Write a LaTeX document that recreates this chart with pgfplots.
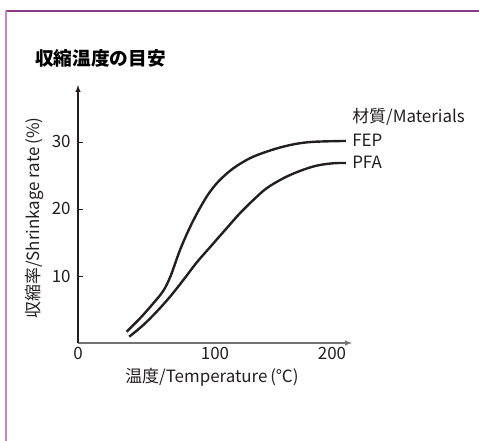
\documentclass[border=0pt]{standalone}
\usepackage{pgfplots}
\pgfplotsset{compat=1.18}
\usepackage{fontspec}
\setmainfont{Noto Sans CJK JP}
\definecolor{ink}{RGB}{35,31,32}
\definecolor{frametop}{RGB}{140,58,130}
\definecolor{frameleft}{RGB}{210,128,195}
\begin{document}
\begin{tikzpicture}
\path[use as bounding box] (0,0) rectangle (359.25pt,330.75pt);
\draw[line width=1.1pt, frametop] (4.5pt,322.5pt) -- (359.25pt,322.5pt);
\draw[line width=1.1pt, frameleft] (4.5pt,322.5pt) -- (4.5pt,0pt);
\node[anchor=west, inner sep=0pt, font=\bfseries\fontsize{14}{16}\selectfont] at (26.25pt,287.25pt) {収縮温度の目安};
\begin{axis}[
  at={(58.5pt,73.5pt)}, anchor=origin,
  scale only axis, width=205.5pt, height=193.5pt,
  xmin=0, xmax=200, ymin=0, ymax=38.5,
  axis lines=left, clip=false,
  x axis line style={line width=0.8pt, black!55, -latex},
  y axis line style={line width=0.8pt, ink, -latex},
  xtick={0,100}, extra x ticks={200},
  extra x tick style={major tick length=0pt, xticklabel style={xshift=-15pt}},
  major x tick style={draw=none},
  ytick={10,20,30},
  tick align=inside, major tick length=4pt,
  major y tick style={ink, line width=0.6pt},
  tick label style={font=\fontsize{12.7}{14}\selectfont, text=ink},
  yticklabel style={xshift=-2pt},
  /pgf/number format/assume math mode=true,
  xlabel={温度/Temperature\,(℃)},
  ylabel={収縮率/Shrinkage rate\,(\%)},
  label style={font=\fontsize{12.7}{14}\selectfont, text=ink},
  xlabel style={at={(axis description cs:0.489,-0.132)}, anchor=center},
  ylabel style={at={(axis description cs:-0.157,0.484)}, anchor=center, rotate=0},
]
\addplot[ink, line width=1.8pt, smooth, tension=0.6] coordinates {
(35.5,1.69) (45.3,3.69) (55.0,5.93) (62.3,7.8) (67.2,9.8) (70.8,11.8) (74.5,13.9)
(79.3,16.2) (84.2,18.3) (90.3,20.6) (96.4,22.58) (103.6,24.33) (113.4,26.07)
(125.5,27.57) (137.7,28.55) (149.9,29.30) (162.0,29.81) (174.2,30.04) (195.6,30.15)};
\addplot[ink, line width=1.8pt, smooth, tension=0.6] coordinates {
(37.4,0.94) (47.7,2.69) (57.4,4.67) (67.2,6.91) (76.9,9.40) (86.6,12.0) (96.4,14.3)
(103.1,15.87) (108.5,17.12) (118.2,19.36) (128.0,21.34) (137.7,23.09) (149.9,24.58)
(162.0,25.67) (174.2,26.46) (186.4,26.82) (195.6,26.85)};
\node[anchor=west, inner sep=0pt, font=\fontsize{12.7}{14}\selectfont, text=ink] at (axis cs:200,33.7) {材質/Materials};
\node[anchor=west, inner sep=0pt, font=\fontsize{12.7}{14}\selectfont, text=ink] at (axis cs:200,30.3) {FEP};
\node[anchor=west, inner sep=0pt, font=\fontsize{12.7}{14}\selectfont, text=ink] at (axis cs:200,27.0) {PFA};
\end{axis}
\end{tikzpicture}
\end{document}
